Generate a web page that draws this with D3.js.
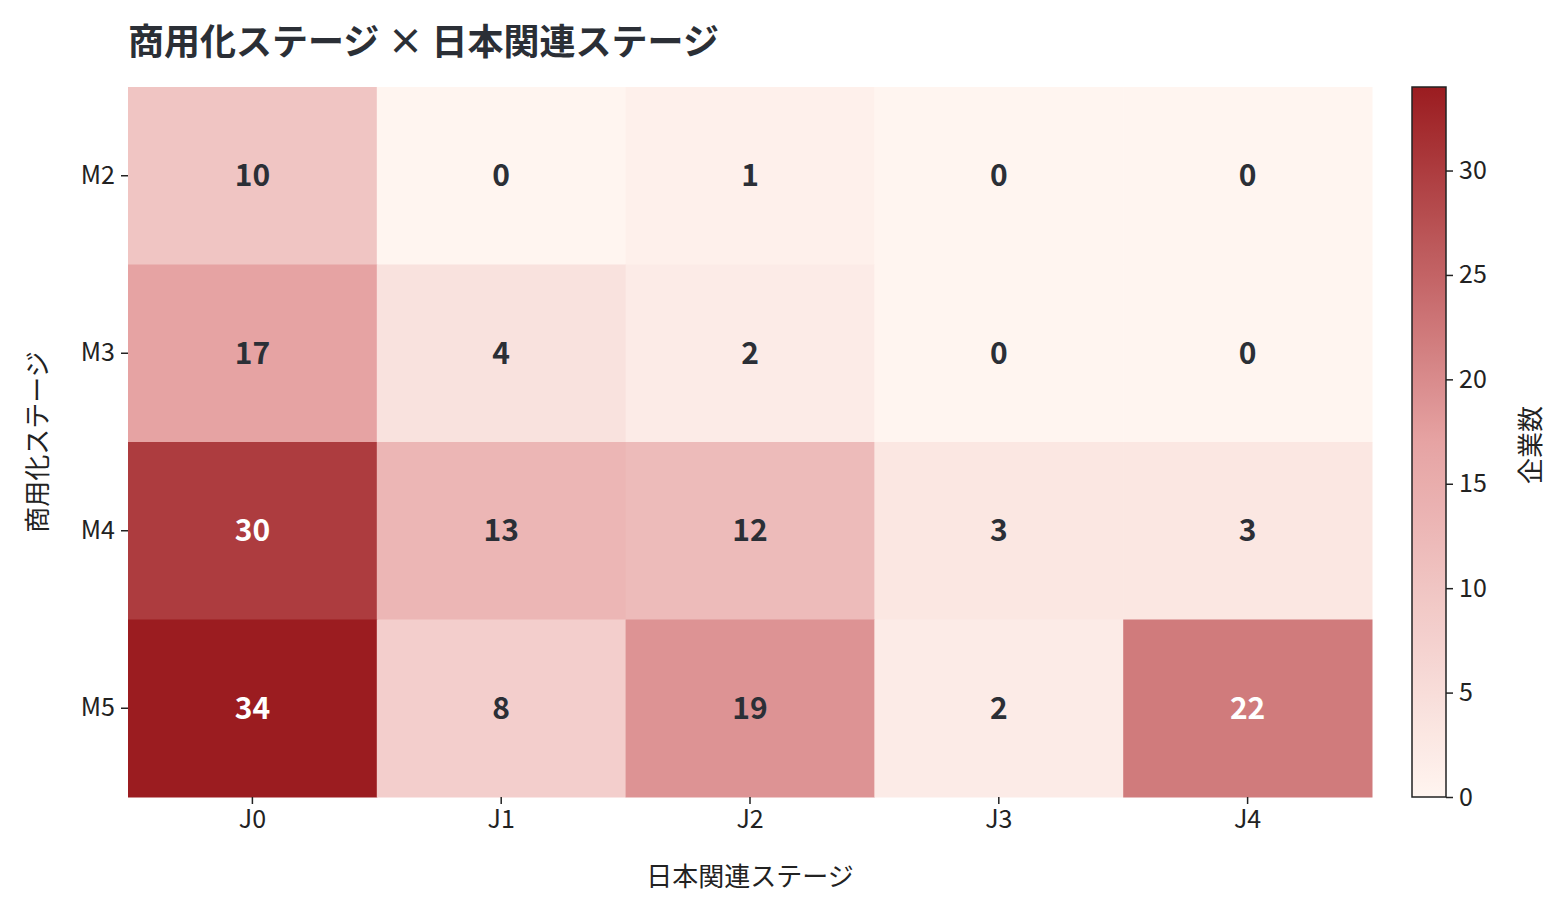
<!DOCTYPE html>
<html><head><meta charset="utf-8">
<script src="https://cdn.jsdelivr.net/npm/d3@7"></script>
<style>body{margin:0;background:#fff}text{font-family:"Noto Sans CJK JP","Noto Sans",sans-serif}</style>
</head><body><svg id="c" width="1568" height="916"></svg>
<script>
const cols=["J0","J1","J2","J3","J4"];
const rows=["M2","M3","M4","M5"];
const values=[[10,0,1,0,0],[17,4,2,0,0],[30,13,12,3,3],[34,8,19,2,22]];
const cbTicks=[0,5,10,15,20,25,30];
const svg=d3.select("#c");
const L=128,R=1372,T=87,B=797;
const x=d3.scaleBand().domain(cols).range([L,R]);
const y=d3.scaleBand().domain(rows).range([T,B]);
const color=d3.scaleLinear().domain([0,17,34]).range(["#fff5f0","#e6a3a3","#9b1c20"]);
const g=svg.append("g");
rows.forEach((r,i)=>cols.forEach((c,j)=>{
  const v=values[i][j];
  g.append("rect").attr("x",x(c)).attr("y",y(r)).attr("width",x.bandwidth()+0.5).attr("height",y.bandwidth()+0.5).attr("fill",color(v));
  g.append("text").attr("x",x(c)+x.bandwidth()/2).attr("y",y(r)+y.bandwidth()/2).attr("dy","0.35em")
   .attr("text-anchor","middle").attr("font-size",30).attr("font-weight","bold")
   .attr("fill",v>20?"#fff":"#2b2f36").text(v);
}));
const ax=svg.append("g").attr("transform",`translate(0,${B})`).call(d3.axisBottom(x).tickSize(7).tickPadding(6));
const ay=svg.append("g").attr("transform",`translate(${L},0)`).call(d3.axisLeft(y).tickSize(7).tickPadding(6));
[ax,ay].forEach(a=>{a.select(".domain").remove();a.selectAll("text").attr("font-size",25).attr("fill","#222");a.selectAll("line").attr("stroke","#222").attr("stroke-width",1.5);});
svg.append("text").attr("x",(L+R)/2).attr("y",886).attr("text-anchor","middle").attr("font-size",26).attr("fill","#222").text("日本関連ステージ");
svg.append("text").attr("transform",`translate(47,${(T+B)/2}) rotate(-90)`).attr("text-anchor","middle").attr("font-size",26).attr("fill","#222").text("商用化ステージ");
svg.append("text").attr("x",128).attr("y",55).attr("font-size",36).attr("font-weight","bold").attr("fill","#2b2f36").text("商用化ステージ × 日本関連ステージ");
// colorbar
const cx=1412,cw=34;
const cy=d3.scaleLinear().domain([0,34]).range([B,T]);
const defs=svg.append("defs");
const lg=defs.append("linearGradient").attr("id","gr").attr("x1",0).attr("y1",1).attr("x2",0).attr("y2",0);
d3.range(0,35).forEach(v=>lg.append("stop").attr("offset",v/34).attr("stop-color",color(v)));
svg.append("rect").attr("x",cx).attr("y",T).attr("width",cw).attr("height",B-T).attr("fill","url(#gr)").attr("stroke","#222").attr("stroke-width",1.5);
const ac=svg.append("g").attr("transform",`translate(${cx+cw},0)`).call(d3.axisRight(cy).tickValues(cbTicks).tickSize(7).tickPadding(6));
ac.select(".domain").remove();ac.selectAll("text").attr("font-size",25).attr("fill","#222");ac.selectAll("line").attr("stroke","#222").attr("stroke-width",1.5);
svg.append("text").attr("transform",`translate(1540,${(T+B)/2+3}) rotate(-90)`).attr("text-anchor","middle").attr("font-size",26).attr("fill","#222").text("企業数");
</script></body></html>
